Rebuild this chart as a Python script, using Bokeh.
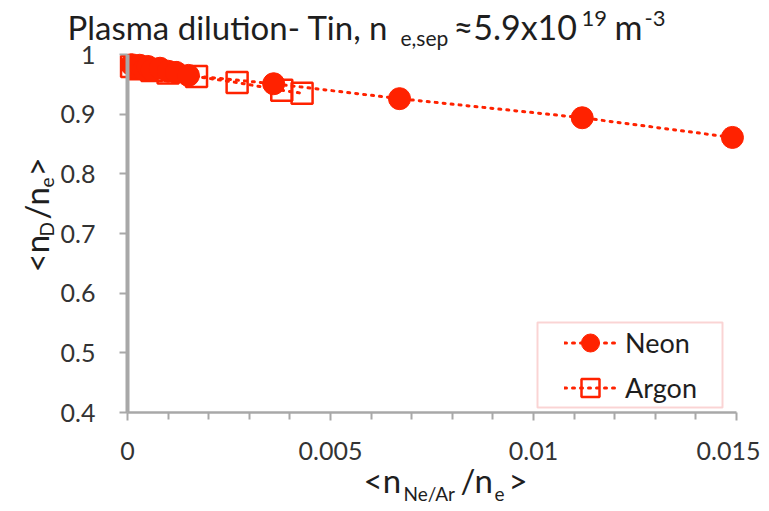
import math
from bokeh.plotting import figure
from bokeh.models import (Label, Legend, LegendItem, FixedTicker, Range1d,
                          BoxAnnotation, LinearAxis)
from bokeh.embed import file_html
from bokeh.resources import INLINE

# ---------------- data ----------------
neon_x = [0.0001, 0.0002, 0.0003, 0.0004, 0.0005, 0.0006, 0.0008, 0.0010,
          0.0012, 0.0015, 0.0036, 0.0067, 0.0112, 0.0149]
neon_y = [0.983, 0.978, 0.982, 0.975, 0.980, 0.974, 0.977, 0.972,
          0.970, 0.965, 0.951, 0.926, 0.894, 0.861]

argon_x = [0.0001, 0.0003, 0.0006, 0.0010, 0.0017, 0.0027, 0.0038, 0.0043]
argon_y = [0.980, 0.976, 0.973, 0.969, 0.963, 0.953, 0.940, 0.935]

x_ticks = [0, 0.005, 0.01, 0.015]
x_tick_labels = ["0", "0.005", "0.01", "0.015"]
x_minor_ticks = [0.001, 0.002, 0.003, 0.004, 0.006, 0.007, 0.008, 0.009,
                 0.011, 0.012, 0.013, 0.014]
y_ticks = [0.4, 0.5, 0.6, 0.7, 0.8, 0.9, 1.0]
y_tick_labels = ["0.4", "0.5", "0.6", "0.7", "0.8", "0.9", "1"]
x_lim = (0, 0.015)
y_lim = (0.4, 1.0)

series_names = ["Neon", "Argon"]

# ---------------- layout / styling ----------------
RED = "#ff2200"
GRID = "#b8b8b8"
AXIS = "#a8a8a8"
FONT = "Lato"
TEXT = "#1e1e1e"

W, H = 760, 505
# pixel box of the plot area inside the canvas
PX_L, PX_R, PY_T, PY_B = 127, 736, 54, 412
sx = (x_lim[1] - x_lim[0]) / (PX_R - PX_L)
sy = (y_lim[1] - y_lim[0]) / (PY_B - PY_T)
x_range = Range1d(x_lim[0] - PX_L * sx, x_lim[1] + (W - PX_R) * sx)
y_range = Range1d(y_lim[0] - (H - PY_B) * sy, y_lim[1] + PY_T * sy)

p = figure(width=W, height=H, output_backend="svg", toolbar_location=None,
           x_range=x_range, y_range=y_range, x_axis_type=None,
           y_axis_type=None,
           min_border_left=0, min_border_right=0,
           min_border_top=0, min_border_bottom=0)
p.outline_line_color = None
p.background_fill_color = "white"
p.border_fill_color = "white"

# axes drawn at fixed data locations inside the canvas
xaxis = LinearAxis(fixed_location=y_lim[0], bounds=x_lim,
                   ticker=FixedTicker(ticks=x_ticks, minor_ticks=x_minor_ticks))
yaxis = LinearAxis(fixed_location=x_lim[0], bounds=y_lim,
                   ticker=FixedTicker(ticks=y_ticks))
p.add_layout(xaxis, "below")
p.add_layout(yaxis, "left")
xaxis.major_label_overrides = dict(zip(x_ticks, x_tick_labels))
yaxis.major_label_overrides = dict(zip(y_ticks, y_tick_labels))

yaxis.axis_line_color = AXIS
yaxis.axis_line_width = 4
xaxis.axis_line_color = AXIS
xaxis.axis_line_width = 2.5
for ax in (xaxis, yaxis):
    ax.major_tick_line_color = AXIS
    ax.major_tick_line_width = 2
    ax.major_tick_out = 8
    ax.major_tick_in = 0
    ax.major_label_text_font = FONT
    ax.major_label_text_font_size = "25px"
    ax.major_label_text_color = "#333333"
xaxis.minor_tick_line_color = AXIS
xaxis.minor_tick_line_width = 2
xaxis.minor_tick_out = 7
xaxis.minor_tick_in = 0
yaxis.minor_tick_line_color = None
yaxis.major_label_standoff = 24
xaxis.major_label_standoff = 21

# grids limited to the plot area
p.xgrid.ticker = FixedTicker(ticks=x_ticks)
p.ygrid.ticker = FixedTicker(ticks=y_ticks)
p.xgrid.bounds = x_lim
p.xgrid.cross_bounds = y_lim
p.ygrid.bounds = y_lim
p.ygrid.cross_bounds = x_lim
for g in (p.xgrid, p.ygrid):
    g.grid_line_color = GRID
    g.grid_line_width = 2

# ---------------- data glyphs ----------------
al = p.line(argon_x, argon_y, line_color=RED, line_width=3, line_dash="2 6",
            line_cap="round")
asq = p.scatter(argon_x, argon_y, marker="square", size=21, fill_color=None,
                line_color=RED, line_width=2.5)
nl = p.line(neon_x, neon_y, line_color=RED, line_width=3, line_dash="2 6",
            line_cap="round")
nc = p.scatter(neon_x, neon_y, marker="circle", size=22, fill_color=RED,
               line_color=RED)

# ---------------- legend ----------------
box = BoxAnnotation(left=537, right=722, top=322, bottom=407,
                    left_units="canvas", right_units="canvas",
                    top_units="canvas", bottom_units="canvas",
                    fill_color="white", fill_alpha=1.0,
                    line_color="#f07070", line_width=2, level="annotation")
p.add_layout(box)

legend = Legend(items=[LegendItem(label=series_names[0], renderers=[nl, nc]),
                       LegendItem(label=series_names[1], renderers=[al, asq])],
                location=(564, H - 410), padding=0, margin=0, spacing=-4,
                glyph_width=52, glyph_height=45, label_standoff=9,
                label_text_font=FONT, label_text_font_size="27px",
                label_text_color=TEXT,
                border_line_color=None, background_fill_alpha=0.0)
p.add_layout(legend)


def lab(text, x, y, size, rotated=False):
    """Place text so that its baseline starts at canvas point (x, y)."""
    shift = 0.36 * size
    if rotated:
        x, y, angle = x - shift, y, math.pi / 2
    else:
        y, angle = y - shift, 0.0
    p.add_layout(Label(x=x, y=y, x_units="canvas", y_units="canvas",
                       text=text, text_font=FONT,
                       text_font_size=f"{size}px",
                       text_color=TEXT, text_align="left",
                       text_baseline="alphabetic", angle=angle))


# ---------------- title (canvas coords) ----------------
lab("Plasma dilution- Tin, n", 67, 38, 33)
lab("e,sep", 400, 45, 21)
lab("≈5.9x10", 453, 38, 34)
lab("19", 581, 26, 22)
lab("m", 614, 38, 34)
lab("-3", 644, 26, 22)

# ---------------- x-axis label ----------------
lab("<n", 363, 491, 33)
lab("Ne/Ar", 403, 500, 19)
lab("/n", 460, 491, 33)
lab("e", 494, 500, 19)
lab(">", 508, 491, 33)

# ---------------- y-axis label (rotated) ----------------
lab("<n", 47, 272, 33, True)
lab("D", 53, 236, 19, True)
lab("/n", 47, 219, 33, True)
lab("e", 53, 187, 19, True)
lab(">", 47, 176, 33, True)

open("out.html", "w").write(file_html(p, INLINE))
